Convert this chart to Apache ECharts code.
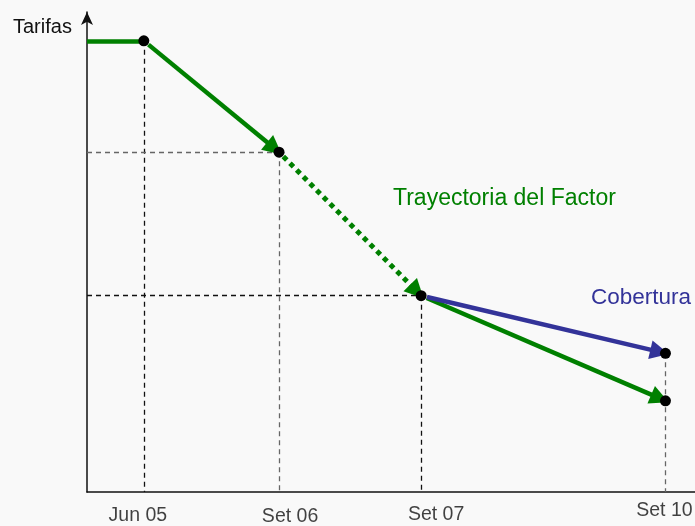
<!DOCTYPE html>
<html>
<head>
<meta charset="utf-8">
<script src="https://cdn.jsdelivr.net/npm/echarts@6/dist/echarts.min.js"></script>
<style>
  html, body { margin: 0; padding: 0; background: #f9f9f9; }
  #chart { width: 695px; height: 526px; }
</style>
</head>
<body>
<div id="chart"></div>
<script>
// fechas (posicion en eje de tiempo, unidades arbitrarias)
const xLabels = ['Jun 05', 'Set 06', 'Set 07', 'Set 10']
const xPos = [1.0, 3.38, 5.88, 10.18]

// trayectoria del factor (tarifa) en cada fecha
const factor = [9.4, 7.08, 4.09, 1.9]
const tarifaInicial = 9.4
// cobertura: desde Set 07 hasta Set 10
const cobertura = [4.09, 2.89]

const green = '#008000'
const blue = '#333399'
const font = '"Liberation Sans", Arial, sans-serif'

// lineas guia punteadas
const guideColors = ['#111', '#666', '#111', '#666']
const guides = []
xPos.forEach((x, i) => {
  const top = i === 3 ? cobertura[1] : factor[i]
  guides.push({ coords: [[x, top], [x, 0]], lineStyle: { color: guideColors[i] } })
  if (i === 1 || i === 2) {
    guides.push({ coords: [[0, factor[i]], [x, factor[i]]], lineStyle: { color: guideColors[i] } })
  }
})

const dots = xPos.map((x, i) => [x, factor[i]])
dots.push([xPos[3], cobertura[1]])

// desplazamiento de cada etiqueta de fecha respecto a su marca
const labelOffsets = [[-6, 24], [11, 25], [15, 23], [-1, 19]]

const chart = echarts.init(document.getElementById('chart'))

// recorta un tramo para que empiece y acabe en el borde de los puntos
let trim = (a, b) => [a, b]
const arrow = (a, b) => ({ coords: trim(a, b) })

const buildOption = () => ({
  backgroundColor: '#f9f9f9',
  animation: false,
  grid: { left: 87, right: 0, top: 12, bottom: 34 },
  xAxis: {
    type: 'value',
    min: 0,
    max: 10.7,
    axisLine: { lineStyle: { color: '#111', width: 1.5 } },
    axisTick: { show: false },
    axisLabel: { show: false },
    splitLine: { show: false }
  },
  yAxis: {
    type: 'value',
    min: 0,
    max: 10,
    axisLine: {
      show: true,
      symbol: ['none', 'arrow'],
      symbolSize: [9, 13],
      lineStyle: { color: '#111', width: 1.5 }
    },
    axisTick: { show: false },
    axisLabel: { show: false },
    splitLine: { show: false }
  },
  graphic: [
    { type: 'text', x: 13, y: 27, style: { text: 'Tarifas', fontSize: 20, fontFamily: font, fill: '#111', verticalAlign: 'middle' } },
    { type: 'text', x: 393, y: 199, style: { text: 'Trayectoria del Factor', fontSize: 23, fontFamily: font, fill: green, verticalAlign: 'middle' } },
    { type: 'text', x: 591, y: 298, style: { text: 'Cobertura', fontSize: 22.5, fontFamily: font, fill: blue, verticalAlign: 'middle' } }
  ],
  series: [
    {
      type: 'lines',
      coordinateSystem: 'cartesian2d',
      z: 1,
      symbol: 'none',
      silent: true,
      lineStyle: { width: 1.3, type: [5, 4], opacity: 1 },
      data: guides
    },
    {
      // tramo plano antes de Jun 05
      type: 'lines',
      coordinateSystem: 'cartesian2d',
      z: 3,
      symbol: 'none',
      lineStyle: { color: green, width: 4.5, opacity: 1 },
      data: [{ coords: [[0, tarifaInicial], [xPos[0], factor[0]]] }]
    },
    {
      type: 'lines',
      coordinateSystem: 'cartesian2d',
      z: 3,
      symbol: ['none', 'triangle'],
      symbolSize: 19,
      lineStyle: { color: green, width: 4.5, opacity: 1 },
      data: [
        arrow([xPos[0], factor[0]], [xPos[1], factor[1]]),
        arrow([xPos[2], factor[2]], [xPos[3], factor[3]])
      ]
    },
    {
      type: 'lines',
      coordinateSystem: 'cartesian2d',
      z: 3,
      symbol: ['none', 'triangle'],
      symbolSize: 19,
      lineStyle: { color: green, width: 5, type: [5, 4.5], opacity: 1 },
      data: [arrow([xPos[1], factor[1]], [xPos[2], factor[2]])]
    },
    {
      type: 'lines',
      coordinateSystem: 'cartesian2d',
      z: 3,
      symbol: ['none', 'triangle'],
      symbolSize: 19,
      lineStyle: { color: blue, width: 4.5, opacity: 1 },
      data: [arrow([xPos[2], cobertura[0]], [xPos[3], cobertura[1]])]
    },
    {
      type: 'scatter',
      z: 5,
      symbolSize: 11,
      itemStyle: { color: '#000', opacity: 1 },
      data: dots
    },
    {
      // etiquetas de fechas
      type: 'scatter',
      z: 5,
      symbolSize: 0,
      silent: true,
      data: xPos.map((x, i) => ({
        value: [x, 0],
        label: { offset: labelOffsets[i] }
      })),
      label: {
        show: true,
        position: 'inside',
        fontSize: 19.5,
        fontFamily: font,
        color: '#111',
        formatter: p => xLabels[p.dataIndex]
      }
    }
  ]
})

chart.setOption(buildOption())

// segunda pasada: recortar en pixeles
trim = (a, b) => {
  const pa = chart.convertToPixel({ gridIndex: 0 }, a)
  const pb = chart.convertToPixel({ gridIndex: 0 }, b)
  const dx = pb[0] - pa[0], dy = pb[1] - pa[1]
  const len = Math.sqrt(dx * dx + dy * dy)
  const g0 = 6, g1 = 6
  const s = [pa[0] + dx * g0 / len, pa[1] + dy * g0 / len]
  const e = [pb[0] - dx * g1 / len, pb[1] - dy * g1 / len]
  return [chart.convertFromPixel({ gridIndex: 0 }, s), chart.convertFromPixel({ gridIndex: 0 }, e)]
}
chart.setOption(buildOption())
</script>
</body>
</html>
